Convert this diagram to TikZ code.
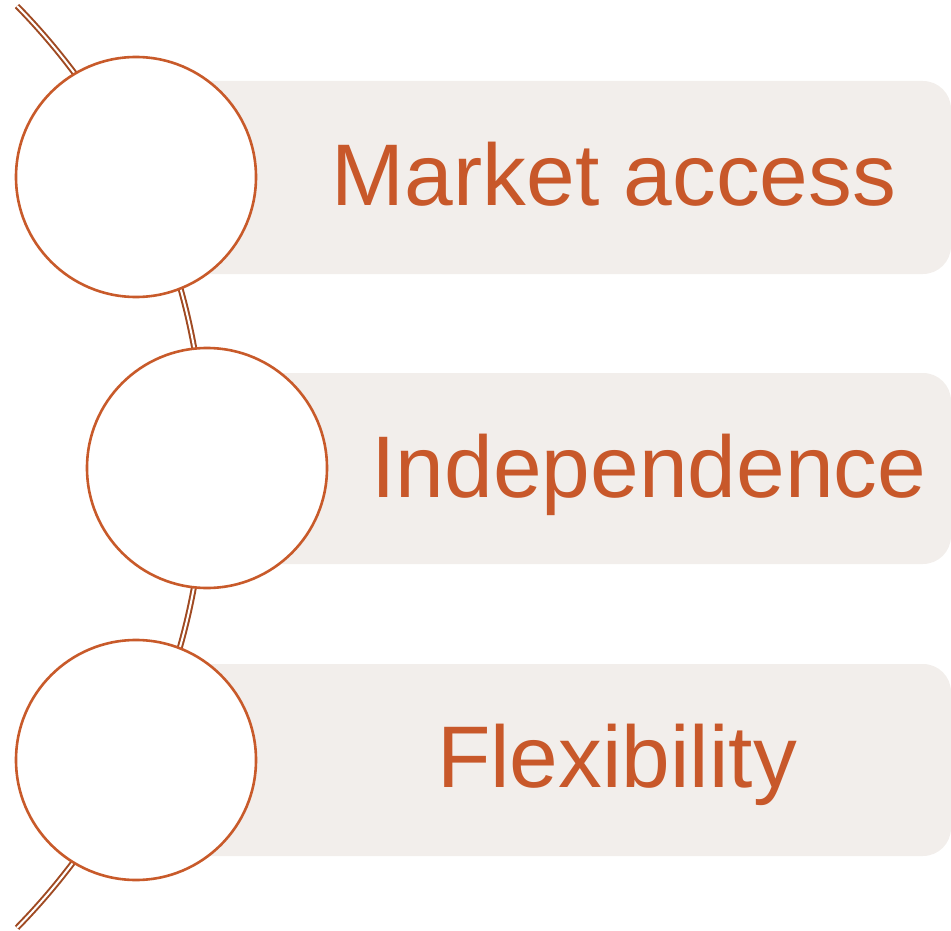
\documentclass[tikz,border=0pt]{standalone}
\usepackage{fontspec}
\setmainfont{Liberation Sans}
\definecolor{txtorange}{HTML}{C8582A}
\definecolor{ringorange}{HTML}{C85A2A}
\definecolor{arcbrown}{HTML}{A04A22}
\definecolor{barfill}{HTML}{F2EEEB}
\begin{document}
\begin{tikzpicture}[x=1pt,y=-1pt,
  bar/.style={fill=barfill},
  ring/.style={circle,draw=ringorange,line width=2.6pt,fill=white,minimum size=240pt,inner sep=0pt},
  label/.style={text=txtorange,anchor=base,inner sep=0pt,font=\fontsize{87.5}{100}\selectfont},
  spine/.style={draw=arcbrown,line width=2pt,double=white,double distance=2pt}]
\useasboundingbox (0,0) rectangle (951,931);
% bars
\fill[bar,rounded corners=28pt] (136,81) rectangle (951,274);
\fill[bar,rounded corners=28pt] (207,373) rectangle (951,564);
\fill[bar,rounded corners=28pt] (136,664) rectangle (951,856);
% spine arc
\path[spine] (17,6) arc[start angle=-44.38,end angle=44.38,radius=659];
% circles
\node[ring] (c1) at (136,177) {};
\node[ring] (c2) at (207,468) {};
\node[ring] (c3) at (136,760) {};
% labels
\node[label] (t1) at (614,205) {Market access};
\node[label] (t2) at (649,497) {Independence};
\node[label] (t3) at (617,787) {Flexibility};
\end{tikzpicture}
\end{document}
